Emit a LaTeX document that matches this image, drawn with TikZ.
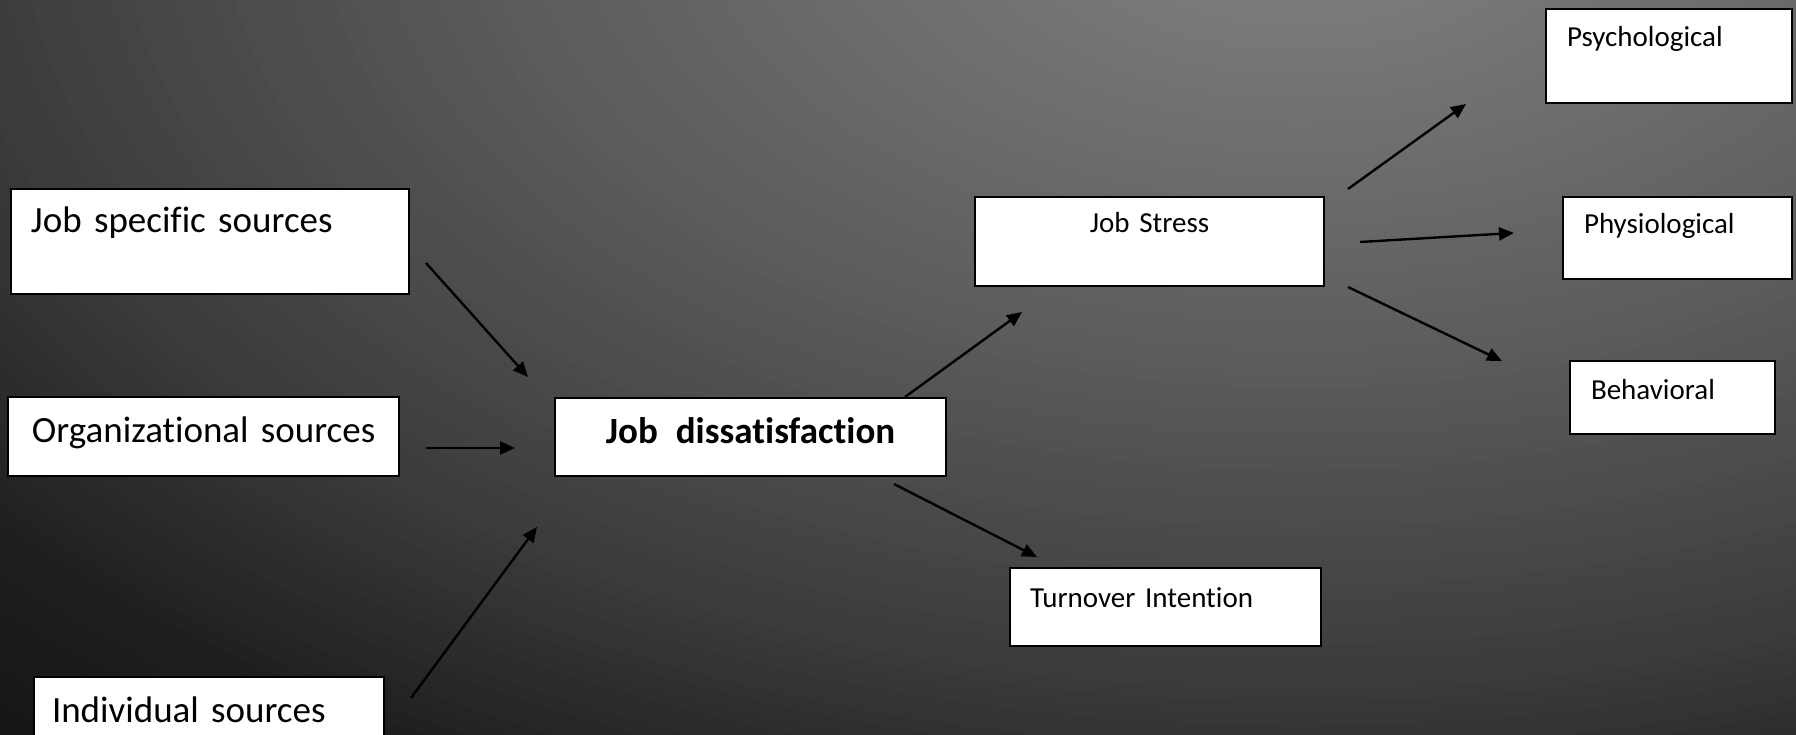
\documentclass[tikz,border=0pt]{standalone}
\usepackage{fontspec}
\setmainfont{Carlito}[Ligatures={NoCommon}, WordSpace=0.65]
\usetikzlibrary{arrows.meta}
\newcommand\bigtxt{\fontsize{37}{44}\selectfont}
\newcommand\smltxt{\fontsize{29}{35}\selectfont}
\begin{document}
\begin{tikzpicture}[x=1pt,y=-1pt,
  box/.style={draw=black, fill=white, line width=2.8pt, anchor=north west, inner ysep=0pt, inner xsep=0pt, outer sep=0pt},
  big/.style={font=\bigtxt, align=left},
  sml/.style={font=\smltxt, align=left},
  arr/.style={draw=black, line width=2.4pt, -{Triangle[length=15pt,width=13pt]}}
]
\useasboundingbox (0,0) rectangle (1796,735);
\clip (0,0) rectangle (1796,735);
% background gradient
\foreach \r in {2000,1980,...,20}{
  \pgfmathsetmacro\d{\r-10}
  \pgfmathtruncatemacro\v{\d<=870 ? 132-0.0506*\d : (\d<=1350 ? 88-0.06*(\d-870) : (\d<=1700 ? 59.2-0.08*(\d-1350) : 31.2-0.04*(\d-1700)))}
  \pgfmathsetmacro\ry{\r/1.72}
  \definecolor{bgc}{RGB}{\v,\v,\v}
  \fill[bgc] (1300,-100) ellipse [x radius=\r pt, y radius=\ry pt];
}
% boxes
\node[box, big, text width=398pt, text height=44pt, text depth=61pt] (js) at (11,189) {\hspace*{20pt}Job specific sources};
\node[box, big, text width=391pt, text height=45pt, text depth=34pt] (org) at (8,397) {\hspace*{24pt}Organizational sources};
\node[box, big, text width=350pt, text height=45pt, text depth=45pt] (ind) at (34,677) {\hspace*{18pt}Individual sources};
\node[box, font=\bigtxt\bfseries, align=center, text width=391pt, text height=45pt, text depth=33pt] (jd) at (555,398) {Job\hspace{18pt}dissatisfaction};
\node[box, font=\smltxt, align=center, text width=349pt, text height=36pt, text depth=53pt] (stress) at (975,197) {Job Stress};
\node[box, sml, text width=311pt, text height=39pt, text depth=39pt] (turn) at (1010,568) {\hspace*{20pt}Turnover Intention};
\node[box, sml, text width=246pt, text height=38pt, text depth=56pt] (psy) at (1546,9) {\hspace*{21pt}Psychological};
\node[box, sml, text width=229pt, text height=37pt, text depth=45pt] (phy) at (1563,197) {\hspace*{21pt}Physiological};
\node[box, sml, text width=205pt, text height=38pt, text depth=35pt] (beh) at (1570,361) {\hspace*{21pt}Behavioral};
% arrow end points
\coordinate (js-o) at (426,263);   \coordinate (jd-i1) at (528,377);
\coordinate (org-o) at (426,448);  \coordinate (jd-i2) at (515,448);
\coordinate (ind-o) at (411,698);  \coordinate (jd-i3) at (537,527);
\coordinate (jd-o1) at (905,397);  \coordinate (st-i) at (1022,312);
\coordinate (jd-o2) at (894,484);  \coordinate (tu-i) at (1037,557);
\coordinate (st-o1) at (1348,189); \coordinate (psy-i) at (1466,104);
\coordinate (st-o2) at (1360,242); \coordinate (phy-i) at (1514,233);
\coordinate (st-o3) at (1348,287); \coordinate (beh-i) at (1502,361);
% arrows
\draw[arr] (js-o) -- (jd-i1);
\draw[arr] (org-o) -- (jd-i2);
\draw[arr] (ind-o) -- (jd-i3);
\draw[arr] (jd-o1) -- (st-i);
\draw[arr] (jd-o2) -- (tu-i);
\draw[arr] (st-o1) -- (psy-i);
\draw[arr] (st-o2) -- (phy-i);
\draw[arr] (st-o3) -- (beh-i);
\end{tikzpicture}
\end{document}
